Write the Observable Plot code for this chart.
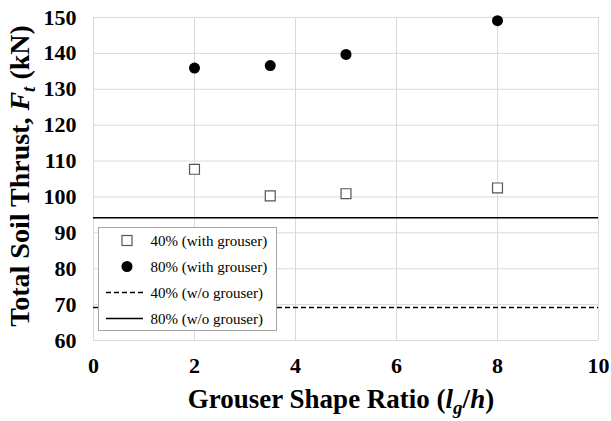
<!DOCTYPE html>
<html>
<head>
<meta charset="utf-8">
<script src="https://cdn.jsdelivr.net/npm/d3@7"></script>
<script src="https://cdn.jsdelivr.net/npm/@observablehq/plot@0.6"></script>
<style>
  body { margin: 0; background: #fff; }
  svg text { font-family: "Liberation Serif", "Times New Roman", serif !important; }
</style>
</head>
<body>
<div id="wrap"></div>
<script>
const shapeRatio = [2, 3.5, 5, 8];
const thrust40 = [107.7, 100.3, 100.9, 102.5];
const thrust80 = [135.9, 136.6, 139.7, 149.1];
const noGrouser40 = 69.2;
const noGrouser80 = 94.2;
const xTicks = [0, 2, 4, 6, 8, 10];
const yTicks = [60, 70, 80, 90, 100, 110, 120, 130, 140, 150];
const legendLabels = ["40% (with grouser)", "80% (with grouser)", "40% (w/o grouser)", "80% (w/o grouser)"];

const d40 = shapeRatio.map((x, i) => ({x, y: thrust40[i]}));
const d80 = shapeRatio.map((x, i) => ({x, y: thrust80[i]}));

const font = "Liberation Serif";
const chart = Plot.plot({
  width: 611, height: 421,
  marginLeft: 93, marginRight: 13, marginTop: 17, marginBottom: 81,
  style: {fontFamily: font, background: "#fff"},
  x: {domain: [0, 10], ticks: xTicks},
  y: {domain: [60, 150], ticks: yTicks},
  marks: [
    Plot.ruleX(xTicks, {stroke: "#d9d9d9", strokeWidth: 1}),
    Plot.ruleY(yTicks, {stroke: "#d9d9d9", strokeWidth: 1}),
    Plot.ruleY([noGrouser80], {stroke: "#000", strokeWidth: 1.5}),
    Plot.ruleY([noGrouser40], {stroke: "#000", strokeWidth: 1.5, strokeDasharray: "5,3"}),
    Plot.dot(d40, {x: "x", y: "y", symbol: "square", r: 5.6, fill: "#fff", stroke: "#555", strokeWidth: 1.2}),
    Plot.dot(d80, {x: "x", y: "y", symbol: "circle", r: 5.5, fill: "#000", stroke: "none"}),
    Plot.axisX({ticks: xTicks, tickSize: 0, tickPadding: 17, fontSize: 22, fontWeight: "bold", fontFamily: font, fill: "#000", label: null}),
    Plot.axisY({ticks: yTicks, tickSize: 0, tickPadding: 17, fontSize: 22, fontWeight: "bold", fontFamily: font, fill: "#000", label: null})
  ]
});

const svg = d3.select(chart);
// x label
const xl = svg.append("text").attr("x", 341).attr("y", 408).attr("text-anchor", "middle")
  .attr("font-size", 27).attr("font-weight", "bold").attr("fill", "#000");
xl.append("tspan").text("Grouser Shape Ratio (");
xl.append("tspan").attr("font-style", "italic").text("l");
xl.append("tspan").attr("font-style", "italic").attr("font-size", 19).attr("dy", 6).text("g");
xl.append("tspan").attr("dy", -6).text("/");
xl.append("tspan").attr("font-style", "italic").text("h");
xl.append("tspan").text(")");
// y label
const yl = svg.append("text").attr("transform", "translate(29,176) rotate(-90)").attr("text-anchor", "middle")
  .attr("font-size", 28).attr("font-weight", "bold").attr("fill", "#000");
yl.append("tspan").text("Total Soil Thrust, ");
yl.append("tspan").attr("font-style", "italic").text("F");
yl.append("tspan").attr("font-style", "italic").attr("font-size", 19).attr("dy", 6).text("t");
yl.append("tspan").attr("dy", -6).text(" (kN)");

// legend (inside svg, over the plot)
const lg = svg.append("g").attr("transform", "translate(98,227)").attr("text-anchor", "start");
lg.append("rect").attr("x", 0.5).attr("y", 0.5).attr("width", 178).attr("height", 103)
  .attr("fill", "#fff").attr("stroke", "#a6a6a6");
legendLabels.forEach((lab, i) => {
  const cy = 13.5 + i * 26;
  const g = lg.append("g");
  if (i === 0) g.append("rect").attr("x", 24).attr("y", cy - 5).attr("width", 10).attr("height", 10)
    .attr("fill", "#fff").attr("stroke", "#555").attr("stroke-width", 1.2);
  if (i === 1) g.append("circle").attr("cx", 29).attr("cy", cy).attr("r", 5.5).attr("fill", "#000");
  if (i >= 2) g.append("line").attr("x1", 8).attr("x2", 45).attr("y1", cy).attr("y2", cy)
    .attr("stroke", "#000").attr("stroke-width", 1.3).attr("stroke-dasharray", i === 2 ? "5,3" : null);
  g.append("text").attr("x", 52.5).attr("y", cy).attr("dy", "0.35em").attr("font-size", 15)
    .attr("text-anchor", "start").attr("fill", "#000").text(lab);
});

document.getElementById("wrap").appendChild(chart);
</script>
</body>
</html>
